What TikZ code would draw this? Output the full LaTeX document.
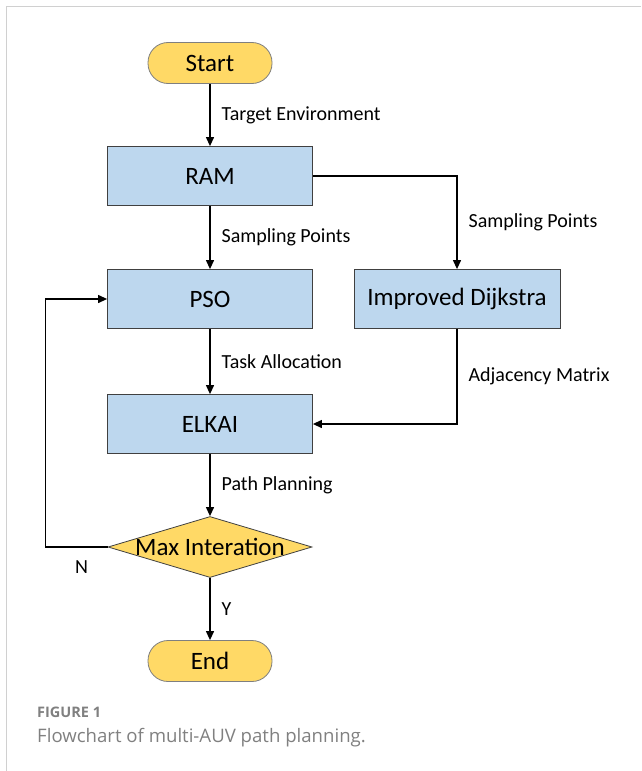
\documentclass[tikz,border=0pt]{standalone}
\usepackage{fontspec}
\setmainfont{Carlito}
\newfontfamily\capfont{Open Sans}
\usetikzlibrary{shapes.geometric,arrows.meta}

\definecolor{termyellow}{HTML}{FFD966}
\definecolor{procblue}{HTML}{BDD7EE}
\definecolor{boxline}{HTML}{404040}
\definecolor{termline}{HTML}{7F7F7F}
\definecolor{framegray}{HTML}{D0D0D0}
\definecolor{capgray}{HTML}{808080}

\tikzset{
  terminal/.style={rectangle, rounded corners=20pt, draw=termline, fill=termyellow,
    line width=0.8pt, minimum width=124pt, minimum height=41pt, font=\fontsize{25}{30}\selectfont},
  process/.style={rectangle, draw=boxline, fill=procblue, line width=0.8pt,
    minimum width=205pt, minimum height=59pt, font=\fontsize{25}{30}\selectfont},
  decision/.style={diamond, draw=boxline, fill=termyellow, line width=0.8pt,
    inner sep=0pt, minimum width=204pt, minimum height=61pt},
  flow/.style={-{Triangle[length=9pt,width=8pt]}, line width=1.2pt},
  lab/.style={right, inner sep=0pt, xshift=11pt, font=\fontsize{20}{24}\selectfont}
}

\begin{document}
\begin{tikzpicture}[x=1pt, y=-1pt]
    % page and frame
    \useasboundingbox (0,0) rectangle (641,771);
    \draw[framegray, line width=1pt] (6,771) -- (6,6) -- (641,6);

    % terminals
    \node[terminal] (start) at (210,63) {Start};
    \node[terminal] (stop) at (210,661) {End};

    % process boxes
    \node[process] (ram) at (210,176) {RAM};
    \node[process] (pso) at (210,299) {PSO};
    \node[process, minimum width=206pt] (dijk) at (457,299) {Improved Dijkstra};
    \node[process] (elkai) at (210,424) {ELKAI};

    % decision
    \node[decision] (check) at (210,547) {};
    \node[font=\fontsize{25}{30}\selectfont] (checktext) at (check) {Max Interation};

    % main line
    \draw[flow] (start) -- node[lab, midway] {Target Environment} (ram);
    \draw[flow] (ram) -- node[lab, midway] {Sampling Points} (pso);
    \draw[flow] (pso) -- node[lab, midway] {Task Allocation} (elkai);
    \draw[flow] (elkai) -- node[lab, midway] {Path Planning} (check);
    \draw[flow] (check) -- node[lab, midway] {Y} (stop);

    % side branch
    \draw[flow] (ram.east) -| node[lab, pos=0.75] {Sampling Points} (dijk.north);
    \draw[flow] (dijk.south) |- node[lab, pos=0.25] {Adjacency Matrix} (elkai.east);

    % loop back
    \draw[flow] (check.west) -- ++(-62,0) node[pos=0.42, yshift=-20pt, font=\fontsize{20}{24}\selectfont] {N} |- (pso.west);

    % caption
    \node[anchor=west, inner sep=0pt, text=capgray, font=\capfont\bfseries\fontsize{14.5}{17}\selectfont] (capnum) at (37,712) {FIGURE 1};
    \node[anchor=west, inner sep=0pt, text=capgray, font=\capfont\fontsize{18.6}{22}\selectfont] (captext) at (37,738) {Flowchart of multi-AUV path planning.};
\end{tikzpicture}
\end{document}
